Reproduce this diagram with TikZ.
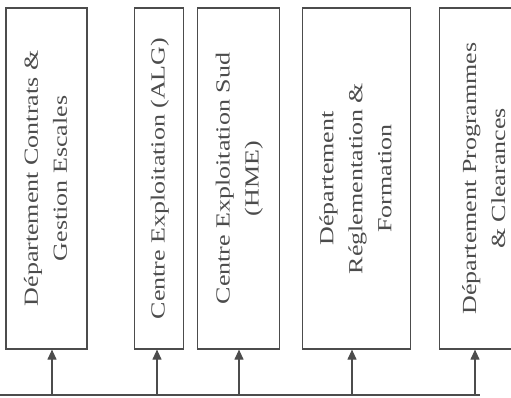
\documentclass[tikz,border=0pt]{standalone}
\usepackage{fontspec}
\setmainfont{Liberation Serif}[FakeStretch=1.3]
\usepackage{graphicx}
\usetikzlibrary{arrows.meta,positioning}
\newcommand{\vtxt}[1]{\rotatebox{90}{\begin{tabular}{@{}c@{}}#1\end{tabular}}}

\begin{document}
\begin{tikzpicture}[
  x=1pt, y=1pt,
  node distance=13pt,
  dept/.style={rectangle, draw=black!70, line width=1.2pt, inner sep=0pt,
               minimum height=341pt, text=black!70,
               font=\fontsize{20}{29}\selectfont},
  arr/.style={-{Triangle[length=10pt,width=9pt]}, line width=1.1pt, draw=black!70},
]
\clip (0,0) rectangle (511,398);
\node[dept, minimum width=81pt] (dcg) at (46.5,219.5) {\vtxt{Département Contrats \&\\Gestion Escales}};
\node[dept, minimum width=49pt, right=46pt of dcg] (alg) {\vtxt{Centre Exploitation (ALG)}};
\node[dept, minimum width=82pt, right=of alg] (hme) {\vtxt{Centre Exploitation Sud\\(HME)}};
\node[dept, minimum width=108pt, right=22pt of hme] (drf) {\vtxt{Département\\Réglementation \&\\Formation}};
\node[dept, minimum width=90pt, right=28pt of drf] (dpc) {\vtxt{Département Programmes\\\& Clearances}};
\coordinate (busL) at (0,3);
\coordinate (busR) at (480,3);
\coordinate (t1) at (52,3);
\coordinate (t2) at (157,3);
\coordinate (t3) at (239,3);
\coordinate (t4) at (352,3);
\coordinate (t5) at (475,3);
\draw[line width=1.2pt, draw=black!70] (busL) -- (busR);
\draw[arr] (t1) -- (t1 |- dcg.south);
\draw[arr] (t2) -- (t2 |- alg.south);
\draw[arr] (t3) -- (t3 |- hme.south);
\draw[arr] (t4) -- (t4 |- drf.south);
\draw[arr] (t5) -- (t5 |- dpc.south);
\end{tikzpicture}
\end{document}
